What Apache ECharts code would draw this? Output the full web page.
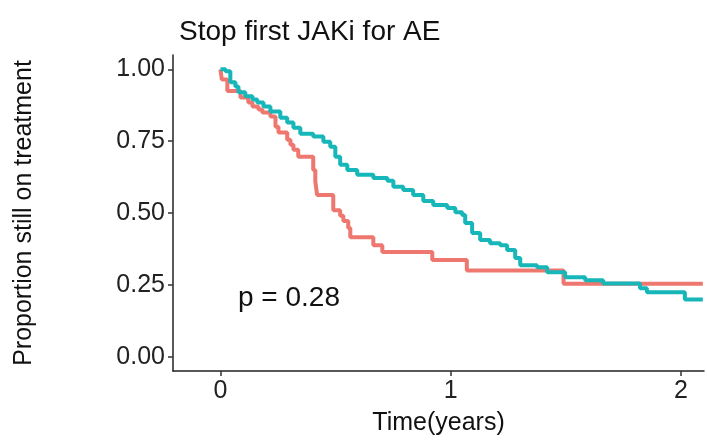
<!DOCTYPE html>
<html>
<head>
<meta charset="utf-8">
<script src="https://cdn.jsdelivr.net/npm/echarts@6/dist/echarts.min.js"></script>
<style>
  html, body { margin: 0; padding: 0; background: #fff; }
  #chart { width: 707px; height: 442px; }
</style>
</head>
<body>
<div id="chart"></div>
<script>
// Kaplan-Meier style curves (time in years, proportion)
var redTime = [0, 0.006, 0.03, 0.087, 0.121, 0.139, 0.165, 0.182, 0.217, 0.239, 0.252, 0.29, 0.304, 0.317,
    0.338, 0.403, 0.412, 0.42, 0.49, 0.52, 0.534, 0.555, 0.564, 0.664, 0.703, 0.92, 1.07, 1.49, 2.095];
var redSurv = [1.0, 0.965, 0.925, 0.902, 0.885, 0.871, 0.86, 0.85, 0.836, 0.80, 0.78, 0.755, 0.738, 0.72,
    0.696, 0.65, 0.61, 0.563, 0.51, 0.49, 0.472, 0.448, 0.416, 0.388, 0.364, 0.336, 0.30, 0.254, 0.254];

var tealTime = [0, 0.022, 0.043, 0.065, 0.078, 0.108, 0.139, 0.16, 0.187, 0.217, 0.26, 0.29, 0.317, 0.347,
    0.403, 0.447, 0.477, 0.499, 0.52, 0.551, 0.594, 0.664, 0.725, 0.751, 0.794, 0.837, 0.881, 0.924, 0.985,
    1.02, 1.05, 1.063, 1.093, 1.128, 1.171, 1.215, 1.245, 1.28, 1.302, 1.375, 1.419, 1.497, 1.584, 1.662,
    1.822, 1.852, 2.017, 2.095];
var tealSurv = [1.0, 0.993, 0.955, 0.94, 0.92, 0.906, 0.895, 0.885, 0.871, 0.853, 0.832, 0.815, 0.797, 0.776,
    0.766, 0.748, 0.731, 0.696, 0.668, 0.65, 0.633, 0.622, 0.612, 0.591, 0.58, 0.563, 0.542, 0.528, 0.517,
    0.503, 0.493, 0.465, 0.43, 0.406, 0.395, 0.388, 0.371, 0.343, 0.318, 0.311, 0.294, 0.276, 0.266, 0.255,
    0.238, 0.224, 0.199, 0.199];

var xTicks = [0, 1, 2];
var yTicks = [0, 0.25, 0.5, 0.75, 1];

var titleText = 'Stop first JAKi for AE';
var pText = 'p = 0.28';

function pairs(xs, ys) {
    var out = [];
    for (var i = 0; i < xs.length; i++) out.push([xs[i], ys[i]]);
    return out;
}

var font = 'Liberation Sans, Arial, sans-serif';
var chart = echarts.init(document.getElementById('chart'));

chart.setOption({
    animation: false,
    backgroundColor: '#fff',
    title: {
        text: titleText,
        left: 174,
        top: 13,
        textStyle: { fontFamily: font, fontSize: 28, fontWeight: 'normal', color: '#111' }
    },
    grid: { left: 173, right: 3, top: 55, bottom: 71, containLabel: false, outerBoundsMode: 'none' },
    xAxis: {
        type: 'value',
        min: -0.206,
        max: 2.1,
        name: 'Time(years)',
        nameLocation: 'middle',
        nameGap: 40,
        nameTextStyle: { fontFamily: font, fontSize: 25, color: '#111' },
        axisLine: { onZero: false, lineStyle: { color: '#222', width: 1.5 } },
        axisTick: { customValues: xTicks, length: 5, lineStyle: { color: '#333', width: 1.5 } },
        axisLabel: { customValues: xTicks, margin: 8, fontFamily: font, fontSize: 25, color: '#222' },
        splitLine: { show: false }
    },
    yAxis: {
        type: 'value',
        min: -0.05,
        max: 1.05,
        name: 'Proportion still on treatment',
        nameLocation: 'middle',
        nameGap: 136,
        nameTextStyle: { fontFamily: font, fontSize: 25, color: '#111' },
        axisLine: { show: true, onZero: false, lineStyle: { color: '#222', width: 1.5 } },
        axisTick: { show: true, customValues: yTicks, length: 5, lineStyle: { color: '#333', width: 1.5 } },
        axisLabel: {
            customValues: yTicks, margin: 8, fontFamily: font, fontSize: 25, color: '#222',
            formatter: function (v) { return v.toFixed(2); }
        },
        splitLine: { show: false }
    },
    graphic: [{
        type: 'text',
        left: 238,
        top: 284,
        style: { text: pText, fontFamily: font, fontSize: 28, fill: '#111' }
    }],
    series: [{
        name: 'red',
        type: 'line',
        step: 'end',
        showSymbol: false,
        lineStyle: { color: '#EE7770', width: 4 },
        data: pairs(redTime, redSurv)
    }, {
        name: 'teal',
        type: 'line',
        step: 'end',
        showSymbol: false,
        lineStyle: { color: '#16B6B9', width: 4 },
        data: pairs(tealTime, tealSurv)
    }]
});
</script>
</body>
</html>
